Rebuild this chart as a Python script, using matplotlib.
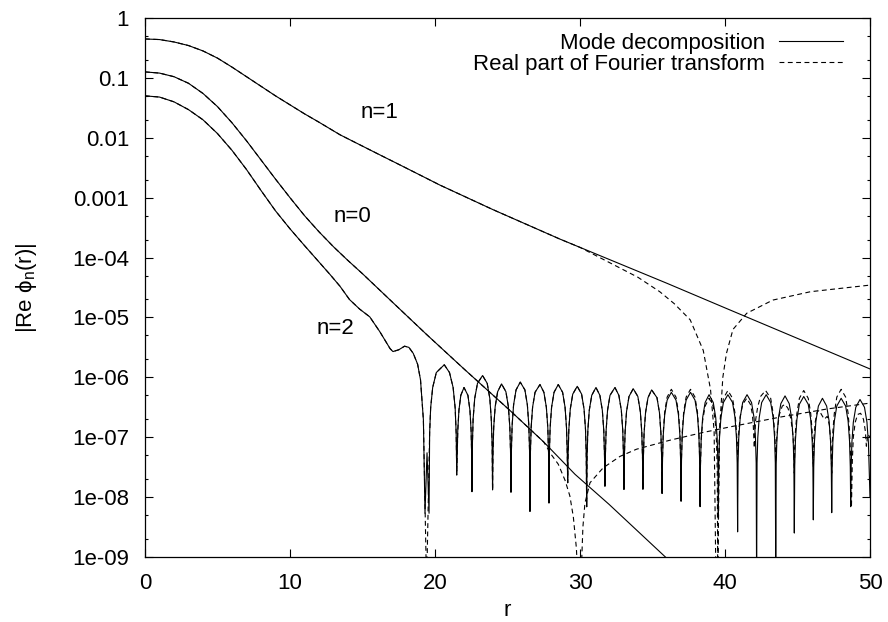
import numpy as np
import matplotlib
matplotlib.use('Agg')
import matplotlib.pyplot as plt
from matplotlib.ticker import FixedLocator, FixedFormatter, LogLocator, NullFormatter

plt.rcParams['font.family'] = ['Liberation Sans', 'DejaVu Sans']
plt.rcParams['mathtext.fontset'] = 'custom'
plt.rcParams['mathtext.rm'] = 'Liberation Sans'
plt.rcParams['mathtext.it'] = 'Liberation Sans:italic'
plt.rcParams['lines.scale_dashes'] = False

# values, y given as log10 of |Re phi_n(r)|

# n=1, mode decomposition
n1_r = [0, 1, 2, 3, 4, 5, 6, 7, 8, 9, 10, 11, 12, 13.45, 15.74, 18.05,
        20.34, 24, 28.6, 32, 36, 40, 45, 50]
n1_lg = [-0.35, -0.36, -0.40, -0.46, -0.55, -0.67, -0.82, -0.98, -1.14, -1.30, -1.45,
         -1.60, -1.74, -1.95, -2.23, -2.51, -2.79, -3.2, -3.69, -4.03, -4.43, -4.84,
         -5.35, -5.86]
# n=1, Fourier transform where it leaves the mode curve
n1ft_r = [30, 32, 34, 35.5, 36.5, 37.6, 38.5, 39.0, 39.25, 39.38, 39.5, 39.62, 39.85,
          40.1, 40.55, 41.5, 43.3, 45.9, 50]
n1ft_lg = [-3.83, -4.08, -4.33, -4.57, -4.77, -5.04, -5.55, -6.2, -6.9, -9.5, -9.5, -6.9,
           -6.0, -5.6, -5.2, -4.93, -4.71, -4.57, -4.46]

# n=0, mode decomposition
n0_r = [0, 1, 2, 3, 4, 5, 6, 7, 8, 9, 10, 11, 12, 13, 14, 15, 17, 19.4, 22, 25.2,
        27.5, 29.66, 32, 35.8, 37]
n0_lg = [-0.90, -0.92, -0.98, -1.09, -1.26, -1.48, -1.75, -2.05, -2.37, -2.69, -3.0,
         -3.3, -3.57, -3.82, -4.05, -4.27, -4.73, -5.28, -5.86, -6.56, -7.08, -7.62,
         -8.12, -8.98, -9.25]
# n=0, Fourier transform (r > 27.5)
n0ft_r = [28.05, 28.5, 28.97, 29.3, 29.54, 29.75, 29.88, 30.05, 30.2, 30.34, 30.69,
          31.6, 32.76, 33.9, 36.2, 38.5, 40.5, 43.9, 47, 50]
n0ft_lg = [-7.3, -7.45, -7.72, -7.98, -8.33, -8.85, -9.5, -9.5, -8.5, -8.1, -7.76,
           -7.51, -7.32, -7.2, -7.05, -6.92, -6.82, -6.66, -6.53, -6.43]

# n=2, mode decomposition: smooth head, then the double zero near r=19.4
n2_r = [0, 1, 2, 3, 4, 5, 6, 7, 8, 9, 10, 11, 11.8, 12.75, 13.45, 14.1,
        14.8, 15.5, 16.2, 16.9, 17.1, 17.5, 17.9, 18.2, 18.5, 18.8, 19.0, 19.2,
        19.31, 19.45, 19.59]
n2_lg = [-1.30, -1.32, -1.40, -1.53, -1.70, -1.93, -2.21, -2.53, -2.88, -3.22, -3.52,
         -3.80, -4.02, -4.28, -4.48, -4.70, -4.86, -4.99, -5.24, -5.52, -5.57, -5.54,
         -5.48, -5.50, -5.60, -5.78, -6.04, -6.71,
         -8.27, -7.26, -8.27]
# n=2 oscillating tail, one arch per line (ends on the next zero)
n2osc_r = [19.63, 19.70, 19.84, 20.09, 20.64, 21.0, 21.25, 21.39, 21.46, 21.5,
           21.53, 21.57, 21.65, 21.78, 22.0, 22.27, 22.41, 22.49, 22.53, 22.55,
           22.58, 22.63, 22.74, 22.93, 23.28, 23.6, 23.78, 23.88, 23.94, 23.97,
           24.0, 24.05, 24.15, 24.32, 24.59, 24.89, 25.06, 25.16, 25.21, 25.24,
           25.27, 25.32, 25.42, 25.59, 25.88, 26.2, 26.37, 26.47, 26.52, 26.55,
           26.58, 26.63, 26.73, 26.9, 27.24, 27.51, 27.68, 27.78, 27.83, 27.86,
           27.89, 27.94, 28.04, 28.21, 28.5, 28.8, 28.97, 29.07, 29.12, 29.15,
           29.18, 29.23, 29.33, 29.5, 29.81, 30.11, 30.28, 30.38, 30.43, 30.46,
           30.49, 30.54, 30.64, 30.81, 31.1, 31.37, 31.54, 31.64, 31.69, 31.72,
           31.75, 31.8, 31.9, 32.07, 32.41, 32.68, 32.85, 32.95, 33.0, 33.03,
           33.06, 33.11, 33.21, 33.38, 33.67, 33.99, 34.16, 34.26, 34.31, 34.34,
           34.37, 34.42, 34.52, 34.69, 34.94, 35.31, 35.48, 35.58, 35.63, 35.66,
           35.69, 35.74, 35.84, 36.01, 36.3, 36.62, 36.79, 36.89, 36.94, 36.97,
           37.0, 37.05, 37.15, 37.32, 37.62, 37.93, 38.1, 38.2, 38.25, 38.28,
           38.31, 38.36, 38.46, 38.63, 38.9, 39.19, 39.36, 39.46, 39.51, 39.54,
           39.57, 39.62, 39.72, 39.89, 40.2, 40.52, 40.69, 40.79, 40.84, 40.87,
           40.9, 40.95, 41.05, 41.22, 41.52, 41.83, 42.0, 42.1, 42.15, 42.18,
           42.21, 42.26, 42.36, 42.53, 42.84, 43.15, 43.32, 43.42, 43.47, 43.5,
           43.53, 43.58, 43.68, 43.85, 44.14, 44.43, 44.6, 44.7, 44.75, 44.78,
           44.81, 44.86, 44.96, 45.13, 45.43, 45.74, 45.91, 46.01, 46.06, 46.09,
           46.12, 46.17, 46.27, 46.44, 46.72, 47.01, 47.18, 47.28, 47.33, 47.36,
           47.39, 47.44, 47.54, 47.71, 48.01, 48.32, 48.49, 48.59, 48.64, 48.67,
           48.7, 48.75, 48.85, 49.02, 49.31, 49.62, 49.79, 49.89, 49.94, 50.0]
n2osc_lg = [-6.93, -6.51, -6.17, -5.92, -5.79, -5.92, -6.17, -6.51, -6.93, -7.63,
            -7.31, -6.89, -6.55, -6.30, -6.17, -6.30, -6.55, -6.89, -7.31, -7.91,
            -7.11, -6.69, -6.35, -6.10, -5.97, -6.10, -6.35, -6.69, -7.11, -7.88,
            -7.25, -6.83, -6.49, -6.24, -6.11, -6.24, -6.49, -6.83, -7.25, -7.92,
            -7.22, -6.80, -6.46, -6.21, -6.08, -6.21, -6.46, -6.80, -7.22, -8.24,
            -7.26, -6.84, -6.50, -6.25, -6.12, -6.25, -6.50, -6.84, -7.26, -8.10,
            -7.26, -6.84, -6.50, -6.25, -6.12, -6.25, -6.50, -6.84, -7.26, -7.76,
            -7.29, -6.87, -6.53, -6.28, -6.15, -6.28, -6.53, -6.87, -7.29, -8.16,
            -7.31, -6.89, -6.55, -6.30, -6.17, -6.30, -6.55, -6.89, -7.31, -7.82,
            -7.31, -6.89, -6.55, -6.30, -6.17, -6.30, -6.55, -6.89, -7.31, -7.87,
            -7.33, -6.91, -6.57, -6.32, -6.19, -6.32, -6.57, -6.91, -7.33, -7.87,
            -7.35, -6.93, -6.59, -6.34, -6.21, -6.34, -6.59, -6.93, -7.35, -7.94,
            -7.39, -6.97, -6.63, -6.38, -6.25, -6.38, -6.63, -6.97, -7.39, -8.07,
            -7.39, -6.97, -6.63, -6.38, -6.25, -6.38, -6.63, -6.97, -7.39, -8.16,
            -7.43, -7.01, -6.67, -6.42, -6.29, -6.42, -6.67, -7.01, -7.43, -8.32,
            -7.43, -7.01, -6.67, -6.42, -6.29, -6.42, -6.67, -7.01, -7.43, -8.58,
            -7.43, -7.01, -6.67, -6.42, -6.29, -6.42, -6.67, -7.01, -7.43, -9.5,
            -7.43, -7.01, -6.67, -6.42, -6.29, -6.42, -6.67, -7.01, -7.43, -9.5,
            -7.45, -7.03, -6.69, -6.44, -6.31, -6.44, -6.69, -7.03, -7.45, -8.60,
            -7.46, -7.04, -6.70, -6.45, -6.32, -6.45, -6.70, -7.04, -7.46, -8.38,
            -7.49, -7.07, -6.73, -6.48, -6.35, -6.48, -6.73, -7.07, -7.49, -8.26,
            -7.49, -7.07, -6.73, -6.48, -6.35, -6.48, -6.73, -7.07, -7.49, -8.16,
            -7.51, -7.09, -6.75, -6.50, -6.37, -6.50, -6.75, -7.09, -7.51, -8.0]

# n=2, Fourier transform: one deep zero near r=19.4 and its own arches after r=35.66
n2ft_dip_r = [19.42]
n2ft_dip_lg = [-9.5]
n2ft_r = [35.69, 35.74, 35.84, 36.01, 36.3, 36.62, 36.79, 36.89, 36.94, 36.97,
          37.0, 37.05, 37.15, 37.32, 37.62, 37.93, 38.1, 38.2, 38.25, 38.28,
          38.31, 38.36, 38.46, 38.63, 38.9, 39.19, 39.33, 39.42, 39.47, 39.5,
          39.57, 39.62, 39.72, 39.89, 40.2, 40.52, 40.69, 40.79, 40.84, 40.87,
          40.9, 40.95, 41.05, 41.22, 41.5, 41.75, 41.88, 41.95, 41.99, 42.02,
          42.06, 42.12, 42.25, 42.45, 42.8, 43.15, 43.32, 43.42, 43.47, 43.5,
          43.55, 43.62, 43.75, 43.95, 44.14, 44.35, 44.55, 44.68, 44.74, 44.78,
          44.81, 44.86, 44.96, 45.13, 45.43, 45.74, 45.91, 46.01, 46.06, 46.09,
          46.14, 46.22, 46.35, 46.5, 46.65, 46.85, 47.05, 47.2, 47.3, 47.36,
          47.39, 47.44, 47.54, 47.71, 48.01, 48.32, 48.49, 48.59, 48.66, 48.72,
          48.78, 48.85, 48.98, 49.15, 49.35, 49.55, 49.68, 49.75, 49.85, 50.0]
n2ft_lg = [-7.34, -6.92, -6.58, -6.33, -6.2, -6.33, -6.58, -6.92, -7.34, -7.65,
           -7.34, -6.92, -6.58, -6.33, -6.2, -6.33, -6.58, -6.92, -7.34, -7.9,
           -7.45, -7.05, -6.72, -6.48, -6.35, -6.48, -6.75, -7.1, -7.6, -9.5,
           -7.35, -6.95, -6.6, -6.35, -6.22, -6.35, -6.6, -6.9, -7.1, -7.3,
           -7.2, -6.9, -6.65, -6.45, -6.35, -6.45, -6.6, -6.8, -7.0, -7.18,
           -6.95, -6.7, -6.5, -6.32, -6.22, -6.35, -6.6, -6.9, -7.15, -7.4,
           -7.1, -6.85, -6.62, -6.48, -6.45, -6.52, -6.7, -6.95, -7.2, -7.6,
           -7.2, -6.9, -6.6, -6.35, -6.22, -6.35, -6.6, -6.9, -7.2, -7.5,
           -7.0, -6.75, -6.58, -6.55, -6.62, -6.7, -6.65, -6.8, -7.1, -7.6,
           -7.2, -6.9, -6.6, -6.33, -6.2, -6.33, -6.6, -6.9, -7.3, -8.17,
           -7.4, -7.0, -6.75, -6.62, -6.6, -6.7, -6.9, -7.15, -6.95, -7.0]

ytick_vals = [0, -1, -2, -3, -4, -5, -6, -7, -8, -9]
ytick_labels = ['1', '0.1', '0.01', '0.001', '1e-04', '1e-05', '1e-06', '1e-07',
                '1e-08', '1e-09']
xtick_vals = [0, 10, 20, 30, 40, 50]


def up(lg):
    return 10.0 ** np.array(lg, dtype=float)


# full n=2 mode curve
n2_r_all = n2_r + n2osc_r
n2_lg_all = n2_lg + n2osc_lg

# dashed curves = mode curve up to where they part, then the read tail
k1 = n1_r.index(28.6)
n1f_r = n1_r[:k1 + 1] + n1ft_r
n1f_lg = n1_lg[:k1 + 1] + n1ft_lg
k0 = n0_r.index(27.5)
n0f_r = n0_r[:k0 + 1] + n0ft_r
n0f_lg = n0_lg[:k0 + 1] + n0ft_lg
ka = n2_r.index(19.2)
kc = n2osc_r.index(35.66)
n2f_r = n2_r[:ka + 1] + n2ft_dip_r + n2osc_r[:kc + 1] + n2ft_r
n2f_lg = n2_lg[:ka + 1] + n2ft_dip_lg + n2osc_lg[:kc + 1] + n2ft_lg

fig = plt.figure(figsize=(8.88, 6.22), dpi=100)
ax = fig.add_axes([145 / 888, 65 / 622, 725 / 888, 539 / 622])

lw = 0.8
dash = (0, (3.5, 2.5))
ax.plot(n1_r, up(n1_lg), color='black', lw=lw, label='Mode decomposition')
ax.plot(n1f_r, up(n1f_lg), color='black', lw=lw, ls=dash,
        label='Real part of Fourier transform')
ax.plot(n0_r, up(n0_lg), color='black', lw=lw)
ax.plot(n0f_r, up(n0f_lg), color='black', lw=lw, ls=dash)
ax.plot(n2_r_all, up(n2_lg_all), color='black', lw=lw)
ax.plot(n2f_r, up(n2f_lg), color='black', lw=lw, ls=dash)

ax.set_yscale('log')
ax.set_xlim(0, 50)
ax.set_ylim(1e-9, 1)

ax.yaxis.set_major_locator(FixedLocator(up(ytick_vals)))
ax.yaxis.set_major_formatter(FixedFormatter(ytick_labels))
ax.yaxis.set_minor_locator(LogLocator(base=10, subs=(2.0, 5.0), numticks=30))
ax.yaxis.set_minor_formatter(NullFormatter())
ax.set_xticks(xtick_vals)
ax.tick_params(which='both', direction='in', top=True, right=True, labelsize=16,
               width=0.8, pad=11.5)
ax.tick_params(which='major', length=5.5)
ax.tick_params(which='minor', length=2.5)
for s in ax.spines.values():
    s.set_linewidth(0.9)

ax.set_xlabel('r', fontsize=16)
ax.set_ylabel(r'|Re $\mathregular{\phi_n}$(r)|', fontsize=16)
ax.xaxis.set_label_coords(0.5, -0.08)
ax.yaxis.set_label_coords(-0.146, 0.5)

ax.text(16.2, 10 ** -1.57, 'n=1', fontsize=16, ha='center', va='center')
ax.text(14.3, 10 ** -3.32, 'n=0', fontsize=16, ha='center', va='center')
ax.text(13.1, 10 ** -5.19, 'n=2', fontsize=16, ha='center', va='center')

ax.legend(loc='upper right', bbox_to_anchor=(843 / 888, 1 - 33 / 622),
          bbox_transform=fig.transFigure, frameon=False, markerfirst=False,
          fontsize=16, handlelength=2.9, handletextpad=0.6, labelspacing=0.0,
          borderpad=0, borderaxespad=0)

fig.savefig('out.png', dpi=100)
